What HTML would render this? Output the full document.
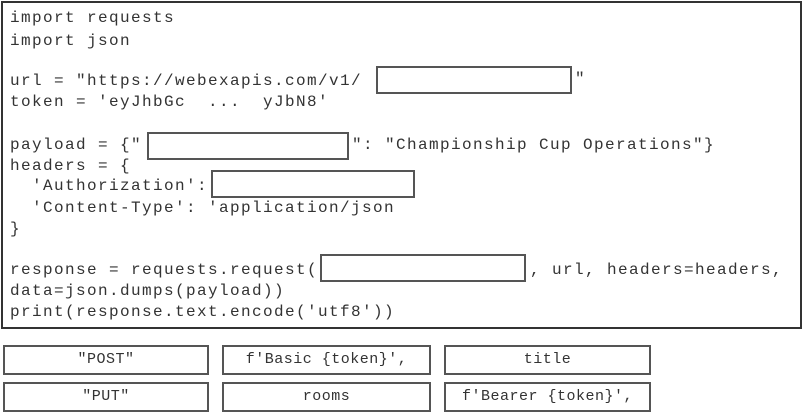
<!DOCTYPE html>
<html><head><style>
body{margin:0;width:804px;height:414px;background:#fff;position:relative;overflow:hidden;font-family:"Liberation Mono",monospace;}
.main{position:absolute;left:1px;top:1px;width:797px;height:324px;border:2px solid #333;box-sizing:content-box;}
.t{position:absolute;left:10px;font-size:16px;letter-spacing:1.4px;color:#333;white-space:pre;line-height:18px;}
.b{position:absolute;border:2px solid #555;background:#fff;box-sizing:border-box;}
.o{position:absolute;border:2px solid #555;box-sizing:border-box;height:30px;font-size:15px;letter-spacing:0.5px;color:#333;text-align:center;line-height:26px;white-space:pre;}
</style></head><body>
<div class="main"></div>
<div class="t" style="top:9px">import requests</div>
<div class="t" style="top:32px">import json</div>
<div class="t" style="top:72px">url = "https://webexapis.com/v1/</div>
<div class="b" style="left:376px;top:66px;width:196px;height:28px"></div>
<div class="t" style="top:70px;left:575px">"</div>
<div class="t" style="top:93px">token = 'eyJhbGc  ...  yJbN8'</div>
<div class="t" style="top:136px">payload = {"</div>
<div class="b" style="left:147px;top:132px;width:202px;height:28px"></div>
<div class="t" style="top:136px;left:352px">": "Championship Cup Operations"}</div>
<div class="t" style="top:157px">headers = {</div>
<div class="t" style="top:177px">  'Authorization':</div>
<div class="b" style="left:211px;top:170px;width:204px;height:28px"></div>
<div class="t" style="top:199px">  'Content-Type': 'application/json</div>
<div class="t" style="top:220px">}</div>
<div class="t" style="top:261px">response = requests.request(</div>
<div class="b" style="left:320px;top:254px;width:206px;height:28px"></div>
<div class="t" style="top:261px;left:530px">, url, headers=headers,</div>
<div class="t" style="top:282px">data=json.dumps(payload))</div>
<div class="t" style="top:303px">print(response.text.encode('utf8'))</div>
<div class="o" style="left:3px;top:345px;width:206px">"POST"</div>
<div class="o" style="left:222px;top:345px;width:209px">f'Basic {token}',</div>
<div class="o" style="left:444px;top:345px;width:207px">title</div>
<div class="o" style="left:3px;top:382px;width:206px">"PUT"</div>
<div class="o" style="left:222px;top:382px;width:209px">rooms</div>
<div class="o" style="left:444px;top:382px;width:207px">f'Bearer {token}',</div>
</body></html>
